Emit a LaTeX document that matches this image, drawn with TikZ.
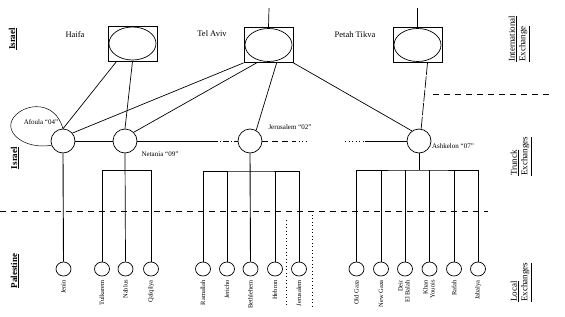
\documentclass[tikz,border=0pt]{standalone}
\usepackage{fontspec}
\setmainfont{Liberation Serif}
\usetikzlibrary{calc,shapes.geometric}
\tikzset{
  ln/.style={line width=0.7pt},
  intbox/.style={draw, line width=0.7pt, minimum width=49pt, minimum height=35pt, inner sep=0pt},
  intell/.style={draw, ellipse, line width=0.7pt, minimum width=47pt, minimum height=33pt, inner sep=0pt},
  trunk/.style={draw, circle, line width=0.7pt, minimum size=24pt, inner sep=0pt},
  loc/.style={draw, ellipse, line width=0.7pt, minimum width=15pt, minimum height=14pt, inner sep=0pt},
  loclabel/.style={rotate=90, anchor=east, font=\fontsize{6.5}{7}\selectfont, inner sep=0pt, align=right},
  toplabel/.style={font=\fontsize{8.5}{9}\selectfont, inner sep=0pt},
  trunklabel/.style={font=\fontsize{7}{8}\selectfont, inner sep=0pt},
  sidelabel/.style={rotate=90, font=\bfseries\fontsize{9}{10}\selectfont, inner sep=0pt},
  rightlabel/.style={rotate=90, anchor=west, align=left, font=\fontsize{9}{10.5}\selectfont, inner sep=0pt},
  dashline/.style={line width=0.7pt, dash pattern=on 6pt off 5pt},
  dotline/.style={line width=0.7pt, dash pattern=on 1pt off 2.5pt},
}
\begin{document}
\begin{tikzpicture}[x=1pt,y=-1pt]
\useasboundingbox (0,0) rectangle (565,316);

% international exchanges
\node[intbox] (haifa) at (132.5,43.5) {};
\node[intell] (haifaE) at (haifa.center) {};
\node[intbox] (telaviv) at (268.5,45) {};
\node[intell] (telavivE) at (telaviv.center) {};
\node[intbox] (petah) at (417.5,45) {};
\node[intell] (petahE) at (petah.center) {};
\coordinate (tatop) at (269,8);
\coordinate (pttop) at (417.5,8);
\draw[ln] (tatop) -- (telaviv.north);
\draw[ln] (pttop) -- (petah.north);

\node[toplabel] (lhaifa) at (75,35) {Haifa};
\node[toplabel] (ltelaviv) at (212,34) {Tel Aviv};
\node[toplabel] (lpetah) at (355,35) {Petah Tikva};

% trunk exchanges
\node[trunk] (afoula) at (63,141) {};
\node[trunk] (netania) at (125,141) {};
\node[trunk] (jerusalem) at (250,141) {};
\node[trunk] (ashkelon) at (419,141) {};

\node[trunklabel] (lafoula) at (41,122) {Afoula ``04''};
\node[trunklabel] (lnetania) at (160,154) {Netania ``09''};
\node[trunklabel] (ljerusalem) at (290,127) {Jerusalem ``02''};
\node[trunklabel] (lashkelon) at (453,146) {Ashkelon ``07''};

% Afoula loop
\draw[line width=0.5pt] (afoula.200) .. controls (25,150) and (2,132) .. (14,117)
   .. controls (25,103) and (55,100) .. (afoula.north);

% links international - trunk
\draw[ln] ($(haifa.south west)+(9,0)$) -- (afoula.north);
\draw[ln] (haifa.south) -- (netania.north);
\draw[ln] (telaviv.south west) -- (afoula.40);
\draw[ln] ($(telaviv.south west)+(13,0)$) -- (netania.45);
\draw[ln] ($(telaviv.south west)+(33,0)$) -- (jerusalem.60);
\draw[ln] (telaviv.south east) -- (ashkelon.125);
\draw[line width=0.7pt, dash pattern=on 12pt off 1.5pt] ($(petah.south)+(10,0)$) -- (ashkelon.80);

% trunk ring
\coordinate (h1) at (212,141);
\coordinate (h2) at (295,141);
\coordinate (h3) at (308,141);
\coordinate (h4) at (345,141);
\coordinate (h5) at (365,141);
\draw[ln] (afoula.east) -- (netania.west);
\draw[ln] (netania.east) -- (h1);
\draw[line width=0.7pt, dash pattern=on 6pt off 2pt on 1pt off 2pt] (h1) -- (jerusalem.west);
\draw[line width=0.7pt, dash pattern=on 6pt off 4pt] (jerusalem.east) -- (h2);
\draw[dotline] (h2) -- (h3);
\draw[dotline] (h4) -- (h5);
\draw[ln] (h5) -- (ashkelon.west);

% level separators
\coordinate (s1a) at (0,211);
\coordinate (s1b) at (488,211);
\draw[dashline] (s1a) -- (s1b);
\coordinate (s2a) at (433,94);
\coordinate (s2b) at (553,94);
\draw[dashline] (s2a) -- (s2b);
\coordinate (d1a) at (286,220);
\coordinate (d1b) at (286,306);
\coordinate (d2a) at (312,211);
\coordinate (d2b) at (312,306);
\draw[dotline] (d1a) -- (d1b);
\draw[dotline] (d2a) -- (d2b);

% local exchanges
\node[loc] (jenin) at (63.5,269) {};
\node[loc] (tulkarem) at (102,269) {};
\node[loc] (nablus) at (125.5,269) {};
\node[loc] (qalqilya) at (151,269) {};
\node[loc] (ramallah) at (203,269) {};
\node[loc] (jericho) at (227,269) {};
\node[loc] (bethlehem) at (250.5,269) {};
\node[loc] (hebron) at (275,269) {};
\node[loc] (jerlocal) at (299,269) {};
\node[loc] (oldgaza) at (356.5,269) {};
\node[loc] (newgaza) at (381,269) {};
\node[loc] (deir) at (405,269) {};
\node[loc] (khan) at (429.5,269) {};
\node[loc] (rafah) at (454,269) {};
\node[loc] (jabalya) at (478,269) {};

\node[loclabel] at (63.5,280) {Jenin};
\node[loclabel] at (102,280) {Tulkarem};
\node[loclabel] at (125.5,280) {Nablus};
\node[loclabel] at (151,280) {Qalqilya};
\node[loclabel] at (203,280) {Ramallah};
\node[loclabel] at (227,280) {Jericho};
\node[loclabel] at (250.5,280) {Bethlehem};
\node[loclabel] at (275,280) {Hebron};
\node[loclabel] at (299,280) {Jerusalem};
\node[loclabel] at (356.5,280) {Old Gaza};
\node[loclabel] at (381,280) {New Gaza};
\node[loclabel] at (404,280) {Deir\\El Balah};
\node[loclabel] at (429,280) {Khan\\Younis};
\node[loclabel] at (454,280) {Rafah};
\node[loclabel] at (478,280) {Jabalya};

% trunk - local links
\draw[line width=0.9pt] (afoula.south) -- (jenin.north);
\draw[ln] (netania.south) -- (nablus.north);
\draw[ln] (tulkarem.north) |- ($(netania.south)+(0,17)$) -| (qalqilya.north);

\draw[line width=0.9pt] (jerusalem.south) -- (bethlehem.north);
\coordinate (bj) at (250,171);
\draw[ln] (ramallah.north) |- (bj) -| (jerlocal.north);
\draw[ln] (jericho.north) -- (jericho.north |- bj);
\draw[ln] (hebron.north) -- (hebron.north |- bj);

\coordinate (ba) at (419,170);
\draw[ln] (ashkelon.south) -- (ba);
\draw[ln] (oldgaza.north) |- (ba) -| (jabalya.north);
\draw[ln] (newgaza.north) -- (newgaza.north |- ba);
\draw[ln] (deir.north) -- (deir.north |- ba);
\draw[ln] (khan.north) -- (khan.north |- ba);
\draw[ln] (rafah.north) -- (rafah.north |- ba);

% side labels
\node[sidelabel] (sisrael1) at (13,39) {\underline{Israel}};
\node[sidelabel] (sisrael2) at (15,158) {\underline{Israel}};
\node[sidelabel] (spal) at (15,271) {\underline{Palestine}};
\node[rightlabel] (rint) at (519,62) {\underline{International}\\\underline{Exchange}};
\node[rightlabel] (rtrunk) at (521,176) {\underline{Trunck}\\\underline{Exchanges}};
\node[rightlabel] (rlocal) at (521,302) {\underline{Local}\\\underline{Exchanges}};
\end{tikzpicture}
\end{document}
